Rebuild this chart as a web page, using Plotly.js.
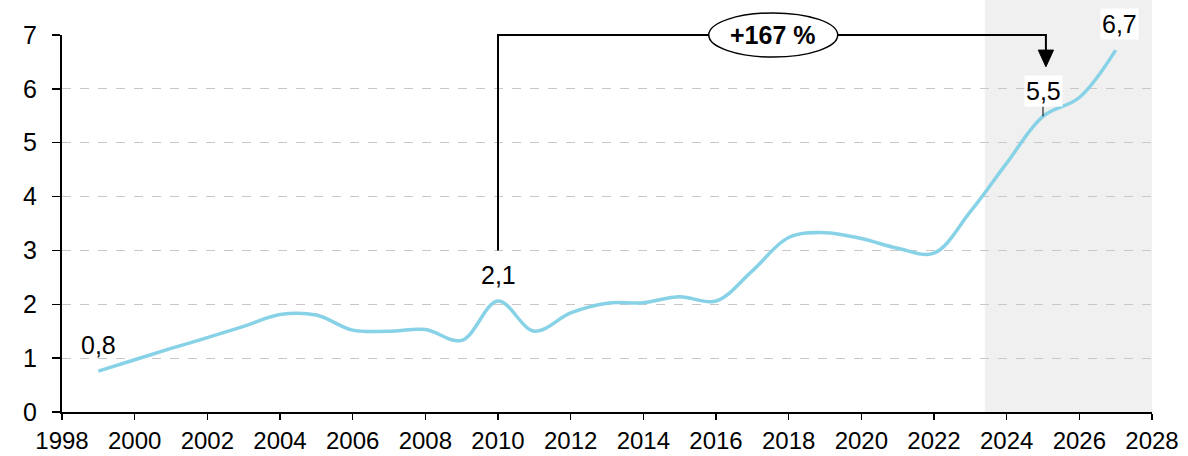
<!DOCTYPE html>
<html>
<head>
<meta charset="utf-8">
<script src="https://cdn.plot.ly/plotly-3.0.1.min.js"></script>
<style>html,body{margin:0;padding:0;background:#fff;}#chart{width:1188px;height:456px;}</style>
</head>
<body>
<div id="chart"></div>
<script>
// Data
const years = [1999,2000,2001,2002,2003,2004,2005,2006,2007,2008,2009,2010,2011,2012,2013,2014,2015,2016,2017,2018,2019,2020,2021,2022,2023,2024,2025,2026,2027];
const values = [0.76,0.97,1.18,1.38,1.59,1.81,1.80,1.52,1.50,1.53,1.33,2.06,1.50,1.84,2.02,2.03,2.14,2.06,2.62,3.24,3.33,3.22,3.04,2.95,3.72,4.62,5.49,5.84,6.72];
const labelYears = [1999, 2010, 2025, 2027];
const xTicks = [1998,2000,2002,2004,2006,2008,2010,2012,2014,2016,2018,2020,2022,2024,2026,2028];
const yTicks = [0,1,2,3,4,5,6,7];
const forecastStart = 2023.4;
const growthText = "+167 %";
const fromYear = 2010, toYear = 2025;

const FONT = '"Liberation Sans", Arial, sans-serif';
const FS = 25;
const yMax = 7;
const valueOf = y => values[years.indexOf(y)];
const fmt = v => v.toFixed(1).replace('.', ',');

const trace = {
  x: years, y: values, type: 'scatter', mode: 'lines',
  line: {color: '#87D2E6', width: 3.5, shape: 'spline', smoothing: 1},
  hoverinfo: 'skip'
};

const annotations = labelYears.map(yr => {
  const a = {
    x: yr, y: valueOf(yr), xref: 'x', yref: 'y',
    text: fmt(valueOf(yr)),
    font: {family: FONT, size: FS, color: '#000'},
    showarrow: false, yshift: 26
  };
  if (yr === toYear) {
    Object.assign(a, {showarrow: true, arrowhead: 0, arrowwidth: 1, arrowcolor: '#000', ax: 0, ay: -25, yshift: 0, standoff: 0, bgcolor: '#fff', borderpad: 1});
  }
  if (yr === years[years.length - 1]) {
    Object.assign(a, {bgcolor: '#fff', xshift: 4, borderpad: 1});
  }
  return a;
});

const arrowX = toYear + 0.08;
const yTop = 1; // paper coordinate of top gridline (value 7)
const p = v => v / yMax;
const ellX0 = 2015.8, ellX1 = 2019.35;
annotations.push({
  x: (ellX0 + ellX1) / 2, y: yTop, xref: 'x', yref: 'paper',
  xanchor: 'center', yanchor: 'middle',
  text: '<b>' + growthText + '</b>', showarrow: false,
  font: {family: FONT, size: FS, color: '#000'}
});

const shapes = [
  {type: 'rect', xref: 'x', yref: 'paper', x0: forecastStart, x1: 2028, y0: 0, y1: 1.1,
   fillcolor: '#F0F0F0', line: {width: 0}, layer: 'below'},
  {type: 'path', xref: 'x', yref: 'paper', layer: 'above',
   path: `M ${fromYear},${p(3)} L ${fromYear},${yTop} L ${arrowX},${yTop} L ${arrowX},${p(6.7)}`,
   line: {color: '#000', width: 2}},
  {type: 'path', xref: 'x', yref: 'paper', layer: 'above',
   path: `M ${arrowX - 0.21},${p(6.72)} L ${arrowX + 0.21},${p(6.72)} L ${arrowX},${p(6.41)} Z`,
   fillcolor: '#000', line: {color: '#000', width: 1}},
  {type: 'circle', xref: 'x', yref: 'paper', layer: 'above',
   x0: ellX0, x1: ellX1, y0: p(6.59), y1: p(7.41),
   fillcolor: '#fff', line: {color: '#000', width: 1.5}}
];

const layout = {
  width: 1188, height: 456,
  margin: {l: 62, r: 36, t: 35, b: 44},
  paper_bgcolor: '#fff', plot_bgcolor: 'rgba(0,0,0,0)',
  showlegend: false,
  font: {family: FONT, size: FS, color: '#000'},
  xaxis: {
    range: [1998, 2028], tickvals: xTicks, ticktext: xTicks.map(String),
    showgrid: false, zeroline: false,
    showline: true, linecolor: '#000', linewidth: 2,
    ticks: 'outside', ticklen: 6, tickwidth: 1.5, tickcolor: '#000',
    ticklabelstandoff: 0,
    tickfont: {family: FONT, size: 24, color: '#000'}
  },
  yaxis: {
    range: [0, yMax], tickvals: yTicks, ticktext: yTicks.map(String),
    showgrid: true, gridcolor: '#C8C8C8', griddash: 'dash', gridwidth: 1,
    zeroline: false, showline: true, linecolor: '#000', linewidth: 2,
    ticks: 'outside', ticklen: 8, tickwidth: 1.5, tickcolor: '#000',
    ticklabelstandoff: 10,
    tickfont: {family: FONT, size: FS, color: '#000'}
  },
  shapes: shapes,
  annotations: annotations
};

Plotly.newPlot('chart', [trace], layout, {staticPlot: true, displayModeBar: false});
</script>
</body>
</html>
